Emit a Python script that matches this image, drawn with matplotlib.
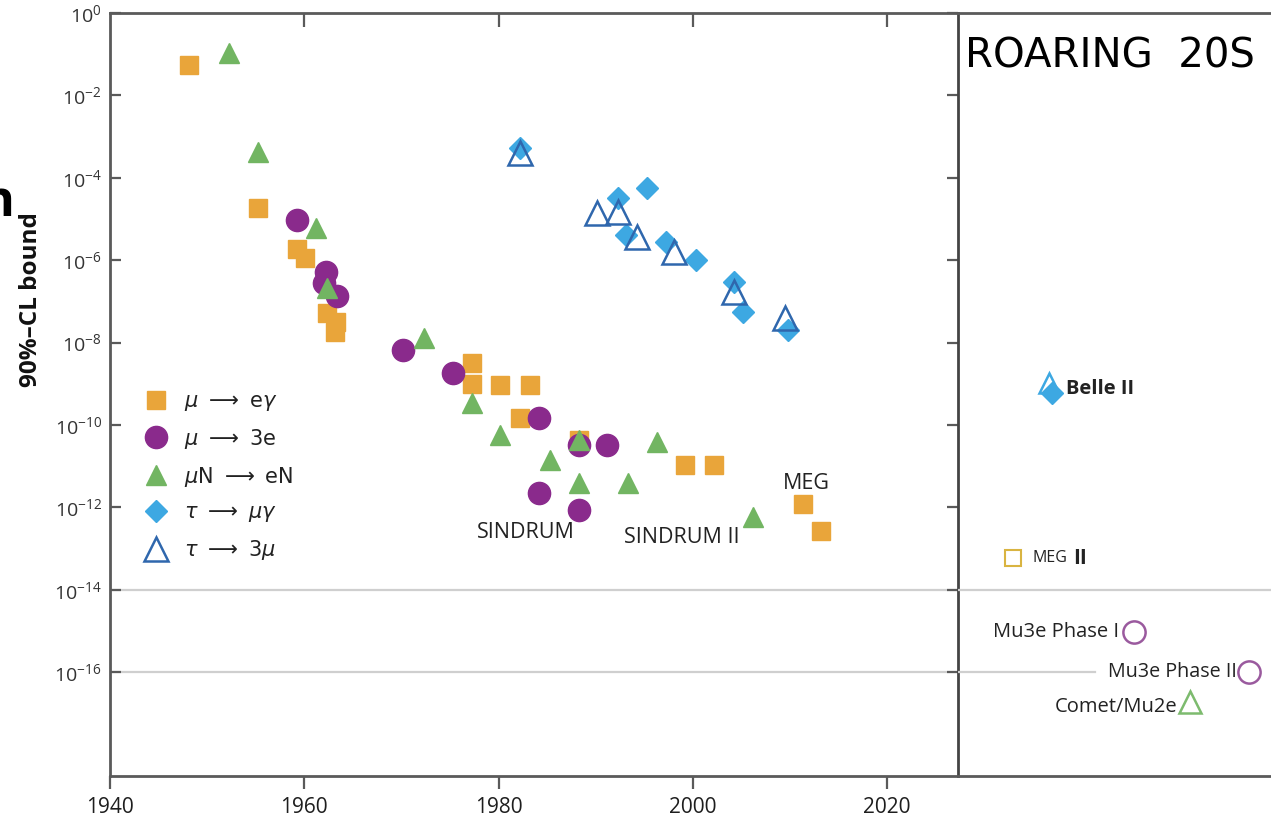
import math
import matplotlib.pyplot as plt
from matplotlib.ticker import FixedLocator, FuncFormatter

# data (year, 90% CL bound)
mueg_year = [1948.1, 1955.2, 1959.2, 1960.1, 1962.3, 1963.3, 1963.2, 1977.3, 1977.3,
             1980.2, 1983.2, 1982.2, 1988.3, 1999.2, 2002.2, 2011.3, 2013.2]
mueg_val = [5.5e-2, 1.9e-5, 1.9e-6, 1.1e-6, 5.2e-8, 3.2e-8, 1.8e-8, 3.2e-9, 1.0e-9,
            9.3e-10, 9.3e-10, 1.5e-10, 4.4e-11, 1.07e-11, 1.07e-11, 1.2e-12, 2.7e-13]

mu3e_year = [1959.2, 1962.2, 1962.0, 1963.4, 1970.2, 1975.3, 1984.2, 1984.2, 1988.3,
             1988.3, 1991.2]
mu3e_val = [9.5e-6, 5.2e-7, 2.8e-7, 1.35e-7, 6.6e-9, 1.8e-9, 1.5e-10, 2.2e-12, 8.7e-13,
            3.3e-11, 3.3e-11]

muN_year = [1952.3, 1955.2, 1961.2, 1962.3, 1972.3, 1977.3, 1980.2, 1985.3, 1988.3,
            1988.3, 1993.3, 1996.3, 2006.2]
muN_val = [0.107, 4.2e-4, 6.0e-6, 2.1e-7, 1.3e-8, 3.4e-10, 5.7e-11, 1.4e-11, 4.4e-11,
           3.9e-12, 3.9e-12, 3.9e-11, 5.9e-13]

taumug_year = [1982.2, 1992.3, 1995.3, 1993.1, 1997.2, 2000.3, 2004.2, 2005.2, 2009.8]
taumug_val = [5.3e-4, 3.2e-5, 5.7e-5, 4.1e-6, 2.8e-6, 1.0e-6, 3.0e-7, 5.5e-8, 2.0e-8]

tau3mu_year = [1982.2, 1990.1, 1992.3, 1994.3, 1998.1, 2004.2, 2009.5]
tau3mu_val = [4.0e-4, 1.4e-5, 1.5e-5, 3.6e-6, 1.6e-6, 1.7e-7, 4.0e-8]

# projected sensitivities (right panel)
belle_year = [2036.7, 2036.95]
belle_val = [1.05e-9, 6.0e-10]
megII_year, megII_val = 2033.0, 5.9e-14
mu3eI_year, mu3eI_val = 2045.4, 9.5e-16
mu3eII_year, mu3eII_val = 2057.2, 1.0e-16
comet_year, comet_val = 2051.1, 1.9e-17

year_ticks = [1940, 1960, 1980, 2000, 2020]

c_or = '#E9A53A'
c_pu = '#8A2A8C'
c_gr = '#72B562'
c_bl = '#3DA8E2'
c_db = '#2F67AD'
c_sp = '#5a5a5a'

plt.rcParams['font.family'] = ['Open Sans', 'DejaVu Sans']
plt.rcParams['mathtext.fontset'] = 'dejavusans'

W, H = 1271, 818
fig = plt.figure(figsize=(W / 100, H / 100), dpi=100)
fig.patch.set_facecolor('white')

x0, x1, ytop, ybot = 110, 958, 13, 776
ax = fig.add_axes([x0 / W, 1 - ybot / H, (x1 - x0) / W, (ybot - ytop) / H])
ax2 = fig.add_axes([x1 / W, 1 - ybot / H, (1300 - x1) / W, (ybot - ytop) / H])

ylo, yhi = 10 ** -18.52, 1.0
xlo, xhi = 1940.1, 2027.3
pxyr = 9.733

ax.set_yscale('log')
ax.set_ylim(ylo, yhi)
ax.set_xlim(xlo, xhi)
ax2.set_yscale('log')
ax2.set_ylim(ylo, yhi)
ax2.set_xlim(xhi, xhi + (1300 - x1) / pxyr)

for a in (ax, ax2):
    a.axhline(1e-14, color='#cfcfcf', lw=1.6, zorder=0)
ax.axhline(1e-16, color='#cfcfcf', lw=1.6, zorder=0)
ax2.plot([xhi, xhi + (1095 - x1) / pxyr], [1e-16, 1e-16], color='#cfcfcf', lw=1.6, zorder=0)

ax.plot(mueg_year, mueg_val, ls='none', marker='s', ms=13, mfc=c_or, mec=c_or,
        label=r'$\mu\ \longrightarrow\ \mathrm{e}\gamma$')
ax.plot(mu3e_year, mu3e_val, ls='none', marker='o', ms=16, mfc=c_pu, mec=c_pu,
        label=r'$\mu\ \longrightarrow\ \mathrm{3e}$')
ax.plot(muN_year, muN_val, ls='none', marker='^', ms=15, mfc=c_gr, mec=c_gr,
        label=r'$\mu\mathrm{N}\ \longrightarrow\ \mathrm{eN}$')
ax.plot(taumug_year, taumug_val, ls='none', marker='D', ms=11.5, mfc=c_bl, mec=c_bl,
        label=r'$\tau\ \longrightarrow\ \mu\gamma$')
ax.plot(tau3mu_year, tau3mu_val, ls='none', marker='^', ms=17, mfc='none', mec=c_db,
        mew=1.8, label=r'$\tau\ \longrightarrow\ 3\mu$')

leg = ax.legend(loc='upper left', bbox_to_anchor=(146 / W, 1 - 391 / H),
                bbox_transform=fig.transFigure, frameon=False, fontsize=15,
                handlelength=1.0, handletextpad=0.8, labelspacing=0.66,
                borderpad=0, borderaxespad=0)
for t in leg.get_texts():
    t.set_color('#222222')

txt = dict(fontsize=15.5, color='#222222', ha='center', va='center')
ax.text(1982.8, 2.5e-13, 'SINDRUM', **txt)
ax.text(1998.9, 1.9e-13, 'SINDRUM II', **txt)
ax.text(2011.7, 3.7e-12, 'MEG', **txt)

# right panel
ax2.plot(belle_year[1], belle_val[1], ls='none', marker='D', ms=11, mfc=c_bl, mec=c_bl)
ax2.plot(belle_year[0], belle_val[0], ls='none', marker='^', ms=15, mfc='none',
         mec=c_bl, mew=1.8)
ax2.plot(megII_year, megII_val, ls='none', marker='s', ms=11, mfc='none', mec='#D9B441',
         mew=1.5)
ax2.plot(mu3eI_year, mu3eI_val, ls='none', marker='o', ms=16, mfc='none', mec='#9A5A9E',
         mew=1.8)
ax2.plot(mu3eII_year, mu3eII_val, ls='none', marker='o', ms=16, mfc='none', mec='#9A5A9E',
         mew=1.8)
ax2.plot(comet_year, comet_val, ls='none', marker='^', ms=16, mfc='none', mec='#7DBB6E',
         mew=1.8)

ann = dict(textcoords='offset points', va='center', color='#222222')
ax2.annotate('Belle II', (belle_year[0], 7.5e-10), xytext=(12, 0), fontsize=14.5,
             fontweight='bold', **ann)
ax2.annotate('MEG', (megII_year, megII_val), xytext=(14, 0), fontsize=11.5, **ann)
ax2.annotate('II', (megII_year, megII_val), xytext=(43, 0), fontsize=15,
             fontweight='bold', **ann)
ax2.annotate('Mu3e Phase I', (mu3eI_year, mu3eI_val), xytext=(-11, 0), ha='right',
             fontsize=14.5, **ann)
ax2.annotate('Mu3e Phase II', (mu3eII_year, mu3eII_val), xytext=(-9, 0), ha='right',
             fontsize=14.2, **ann)
ax2.annotate('Comet/Mu2e', (comet_year, comet_val), xytext=(-9, -4), ha='right',
             fontsize=14.5, **ann)

ax2.text(965 / W, 1 - 57 / H, 'ROARING  20S', transform=fig.transFigure,
         fontsize=29, color='black', family='DejaVu Sans', fontweight='normal',
         ha='left', va='center')

# axes styling
decades = [10.0 ** k for k in range(0, -17, -2)]
ax.yaxis.set_major_locator(FixedLocator(decades))
ax.yaxis.set_minor_locator(FixedLocator([]))
ax.yaxis.set_major_formatter(FuncFormatter(
    lambda v, p: r'$\mathregular{10^{%d}}$' % round(math.log10(v))))
ax.set_xticks(year_ticks)
ax.tick_params(axis='x', direction='out', length=9, width=1.6, color=c_sp,
               labelsize=15, labelcolor='#1e1e1e', pad=6)
ax.tick_params(axis='y', direction='in', length=8, width=1.6, color=c_sp,
               labelsize=14, labelcolor='#333333', pad=6, right=True)
for s in ax.spines.values():
    s.set_color(c_sp)
    s.set_linewidth(2)
ax.spines['right'].set_color('#444444')

# inward ticks along the top edge
top = ax.secondary_xaxis('top')
top.set_xticks(year_ticks[1:])
top.tick_params(direction='in', length=10, width=1.6, color=c_sp, labeltop=False)
top.spines['top'].set_visible(False)

ax2.set_xticks([])
ax2.set_yticks([])
ax2.yaxis.set_minor_locator(FixedLocator([]))
for s in ax2.spines.values():
    s.set_color(c_sp)
    s.set_linewidth(2)
ax2.spines['left'].set_visible(False)
ax2.spines['right'].set_visible(False)
ax2.patch.set_alpha(0)

fig.text(31 / W, 1 - 300 / H, '90%–CL bound', rotation=90, fontsize=17.5,
         fontweight='bold', ha='center', va='center', color='#111111')
fig.text(14 / W, 1 - 216 / H, 'n', fontsize=36, fontweight='bold', ha='right',
         va='baseline', color='black')

fig.savefig('out.png', dpi=100, facecolor='white')
